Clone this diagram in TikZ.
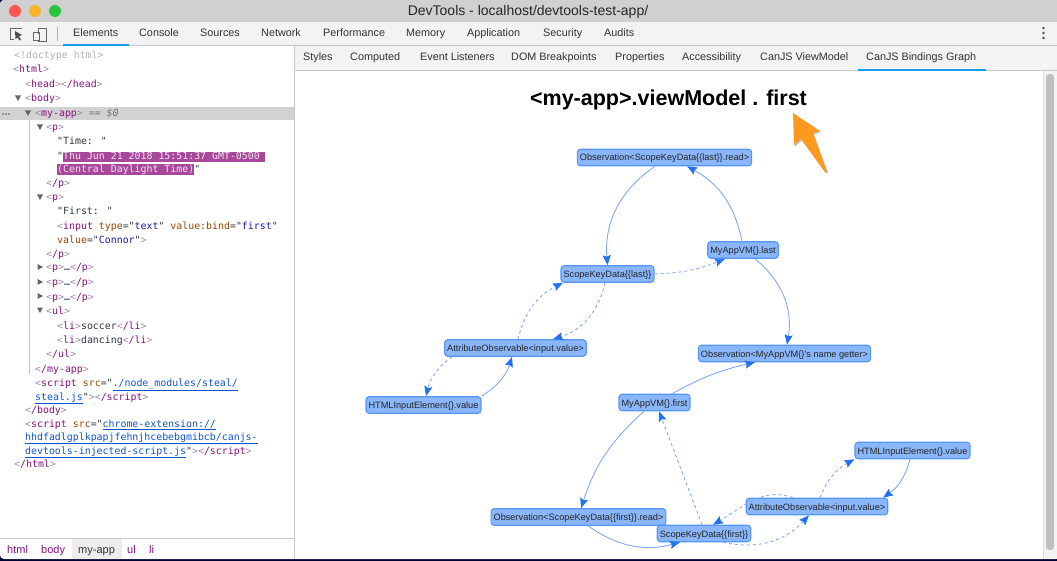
\documentclass[tikz,border=0pt]{standalone}
\usepackage{fontspec}
\setmainfont{Liberation Sans}
\newfontfamily\srcfont{DejaVu Sans Mono}
\usetikzlibrary{arrows.meta}
\definecolor{barbg}{HTML}{D0D0D0}
\definecolor{tabbg}{HTML}{F3F3F3}
\definecolor{linegray}{HTML}{C8C8C8}
\definecolor{tabblue}{HTML}{1A9BE8}
\definecolor{treeline}{HTML}{A8C6EE}
\definecolor{selrow}{HTML}{D2D2D2}
\definecolor{hilite}{HTML}{A8489A}
\definecolor{tagname}{HTML}{881280}
\definecolor{tagmark}{HTML}{A28AA0}
\definecolor{attrname}{HTML}{994500}
\definecolor{attrval}{HTML}{1A1AA6}
\definecolor{linkblue}{HTML}{1155CC}
\definecolor{srctext}{HTML}{303942}
\definecolor{boxfill}{HTML}{8AB6FB}
\definecolor{boxline}{HTML}{5597F3}
\definecolor{edgeblue}{HTML}{7FAAF5}
\definecolor{tipblue}{HTML}{2272F0}
\definecolor{pointer}{HTML}{FF9A1E}
\definecolor{lampred}{HTML}{FC5753}
\definecolor{lampyellow}{HTML}{FDB32C}
\definecolor{lampgreen}{HTML}{2AC33D}
\tikzset{
	src/.style={anchor=base west,inner sep=0pt,text=srctext,font=\srcfont\fontsize{9.9}{12}\selectfont},
	uitab/.style={anchor=base west,inner sep=0pt,text=black!80,font=\fontsize{10.8}{13}\selectfont},
	crumb/.style={anchor=base west,inner sep=0pt,text=tagname,font=\fontsize{11}{13}\selectfont},
	graphbox/.style={draw=boxline,fill=boxfill,rounded corners=3pt,line width=1.1pt,inner xsep=2.5pt,inner ysep=0pt,
		text height=9pt,text depth=2pt,minimum height=16.5pt,text=black!85,font=\fontsize{9.2}{11}\selectfont},
	link/.style={draw=edgeblue,line width=.9pt,-{Stealth[inset=1.5pt,length=10pt,width=8pt,color=tipblue]}},
	dashlink/.style={link,dash pattern=on 3pt off 3pt}
}
\begin{document}
\begin{tikzpicture}[x=1pt,y=-1pt]
\def\tg#1{\textcolor{tagmark}{<}\textcolor{tagname}{#1}\textcolor{tagmark}{>}}
\def\an#1{\textcolor{attrname}{#1}}
\def\av#1{\textcolor{attrval}{#1}}
\def\lk#1{\textcolor{linkblue}{\underline{#1}}}
\useasboundingbox (0,0) rectangle (1057,561);
\fill[black!80!blue] (0,0) rectangle (1057,561);
\fill[white,rounded corners=4pt] (0,0) rectangle (1060,559); %window
\fill[barbg,rounded corners=4pt] (0,0) rectangle (1060,30);
\fill[tabbg] (0,22) rectangle (1057,45);
\fill[tabbg] (295,46) rectangle (1057,70);
\draw[linegray] (0,45.5)--(1057,45.5);
\draw[linegray] (295,70.5)--(1057,70.5);
\draw[linegray] (294.5,46)--(294.5,559);
\draw[linegray] (0,538.5)--(294,538.5);
\fill[tabblue] (63,44)rectangle(129,46);
\fill[tabblue] (858,69)rectangle(986,71);
% title bar
\fill[lampred] (15,11)circle(6);
\fill[lampyellow] (35,11)circle(6);
\fill[lampgreen] (55,11)circle(6);
\node[anchor=base,inner sep=0pt,text=black!85,font=\fontsize{14}{16}\selectfont] (wintitle) at (528,16) {DevTools - localhost/devtools-test-app/};
% toolbar
\draw[black!60,line width=.8pt] (21,29)--(21,28)--(10.5,28)--(10.5,39)--(14,39);
\fill[black!70] (15,31)--(22,35)--(19,36.5)--(21,40)--(19.5,40.5)--(17.5,37.5)--(15.5,39)--cycle;
\draw[black!60,line width=.8pt] (38,34)--(38,28)--(46,28)--(46,41)--(38,41);
\draw[black!60,line width=1pt] (33.5,32.5)rectangle(39,41);
\draw[black!30] (57.5,27)--(57.5,41);
\node[uitab] (tabelements) at (73,37) {Elements};
\node[uitab] (tabconsole) at (139,37) {Console};
\node[uitab] (tabsources) at (200,37) {Sources};
\node[uitab] (tabnetwork) at (261,37) {Network};
\node[uitab] (tabperf) at (323,37) {Performance};
\node[uitab] (tabmemory) at (406,37) {Memory};
\node[uitab] (tabapp) at (467,37) {Application};
\node[uitab] (tabsecurity) at (543,37) {Security};
\node[uitab] (tabaudits) at (604,37) {Audits};
\foreach \y in {28,33,38}
	\fill[black!70] (1043.5,\y)circle(1.3);
\node[uitab] (substyles) at (303,61) {Styles};
\node[uitab] (subcomputed) at (350,61) {Computed};
\node[uitab] (subevents) at (420,61) {Event Listeners};
\node[uitab] (subdom) at (511,61) {DOM Breakpoints};
\node[uitab] (subprops) at (615,61) {Properties};
\node[uitab] (subaccess) at (682,61) {Accessibility};
\node[uitab] (subvm) at (760,61) {CanJS ViewModel};
\node[uitab] (subgraph) at (866,61) {CanJS Bindings Graph};
% scrollbar
\fill[tabbg] (1043,71)rectangle(1057,559);
\draw[linegray!60] (1043.5,71)--(1043.5,559);
\fill[black!25,rounded corners=3.5pt] (1046,74)rectangle(1054,550);
% elements tree
\fill[selrow] (0,107)rectangle(294,120);
\draw[treeline] (29.5,120)--(29.5,374);
\fill[hilite] (63,152)rectangle(265,162.5);
\fill[hilite] (57,164)rectangle(194,175);
\foreach \x/\y in {18/98,28/113,40/127,40/197,40/310}
	\fill[black!60] (\x-3,\y-2.5)--(\x+3,\y-2.5)--(\x,\y+3)--cycle;
\foreach \y in {267,282,296}
	\fill[black!60] (37.5,\y-3)--(43,\y)--(37.5,\y+3)--cycle;
\foreach \x in {3,6,9}
	\fill[black!65] (\x,114)circle(.8);
\node[src,text=black!30] (row01) at (14,59) {<!doctype html>};
\node[src] (row02) at (13,73) {\tg{html}};
\node[src] (row03) at (25,88) {\tg{head}\tg{/head}};
\node[src] (row04) at (25,102) {\tg{body}};
\node[src] (row05) at (35,117) {\tg{my-app} \textcolor{black!55}{== \textit{\$0}}};
\node[src] (row06) at (46,131) {\tg{p}};
\node[src] (row07) at (57,145) {"Time: "};
\node[src] (row08) at (57,160) {"\textcolor{white!85!hilite}{Thu Jun 21 2018 15:51:37 GMT-0500}};
\node[src,text=white!85!hilite] (row09) at (57,173) {(Central Daylight Time)\textcolor{srctext}{"}};
\node[src] (row10) at (46,187) {\tg{/p}};
\node[src] (row11) at (46,201) {\tg{p}};
\node[src] (row12) at (57,215) {"First: "};
\node[src] (row13) at (57,230) {\textcolor{tagmark}{<}\textcolor{tagname}{input} \an{type}="\av{text}" \an{value:bind}="\av{first}"};
\node[src] (row14) at (57,244) {\an{value}="\av{Connor}"\textcolor{tagmark}{>}};
\node[src] (row15) at (46,258) {\tg{/p}};
\node[src] (row16) at (46,271) {\tg{p}…\tg{/p}};
\node[src] (row17) at (46,286) {\tg{p}…\tg{/p}};
\node[src] (row18) at (46,300) {\tg{p}…\tg{/p}};
\node[src] (row19) at (46,314) {\tg{ul}};
\node[src] (row20) at (57,329) {\tg{li}soccer\tg{/li}};
\node[src] (row21) at (57,343) {\tg{li}dancing\tg{/li}};
\node[src] (row22) at (46,357) {\tg{/ul}};
\node[src] (row23) at (35,372) {\tg{/my-app}};
\node[src] (row24) at (35,386) {\textcolor{tagmark}{<}\textcolor{tagname}{script} \an{src}="\lk{./node\_modules/steal/}};
\node[src] (row25) at (35,400) {\lk{steal.js}"\textcolor{tagmark}{>}\tg{/script}};
\node[src] (row26) at (25,413) {\tg{/body}};
\node[src] (row27) at (25,427) {\textcolor{tagmark}{<}\textcolor{tagname}{script} \an{src}="\lk{chrome-extension://}};
\node[src] (row28) at (25,440) {\lk{hhdfadlgplkpapjfehnjhcebebgmibcb/canjs-}};
\node[src] (row29) at (25,454) {\lk{devtools-injected-script.js}"\textcolor{tagmark}{>}\tg{/script}};
\node[src] (row30) at (14,467) {\tg{/html}};
% breadcrumb
\fill[black!7] (72,539)rectangle(122,559);
\node[crumb] (crhtml) at (7,553) {html};
\node[crumb] (crbody) at (41,553) {body};
\node[crumb,text=black!80] (crapp) at (78,553) {my-app};
\node[crumb] (crul) at (127,553) {ul};
\node[crumb] (crli) at (149,553) {li};
% heading and pointer
\node[inner sep=0pt,font=\bfseries\fontsize{21.5}{25}\selectfont] (heading) at (668.5,100) {<my-app>.viewModel . first};
\fill[black!25] (794,114.5)--(821,132)--(814,134.5)--(828,173)--(826,173.5)--(802,140.5)--(795,146.5)--cycle;
\fill[pointer] (793,113)--(820,131)--(813,133)--(827,172)--(825,172)--(801,139)--(794,145)--cycle;
% graph nodes
\node[graphbox] (obslast) at (664.5,157.5) {Observation<ScopeKeyData\{\{last\}\}.read>};
\node[graphbox] (vmlast) at (743,250) {MyAppVM\{\}.last};
\node[graphbox] (sklast) at (607.5,274) {ScopeKeyData\{\{last\}\}};
\node[graphbox] (attrlast) at (515.5,348) {AttributeObservable<input.value>};
\node[graphbox] (htmllast) at (423.5,405) {HTMLInputElement\{\}.value};
\node[graphbox] (obsname) at (784.5,353.5) {Observation<MyAppVM\{\}'s name getter>};
\node[graphbox] (vmfirst) at (654.5,402.5) {MyAppVM\{\}.first};
\node[graphbox] (htmlfirst) at (912.5,450.5) {HTMLInputElement\{\}.value};
\node[graphbox] (attrfirst) at (817,506.5) {AttributeObservable<input.value>};
\node[graphbox] (obsfirst) at (578.5,517) {Observation<ScopeKeyData\{\{first\}\}.read>};
\node[graphbox] (skfirst) at (704,533.5) {ScopeKeyData\{\{first\}\}};
% connectors
\draw[link] ([xshift=-9.5pt]obslast.south) to[bend right=30] (sklast.north); %last
\draw[link] ([xshift=-1pt]vmlast.north) to[bend right=25] ([xshift=22.5pt]obslast.south);
\draw[dashlink] (sklast.east) to[bend right=10] ([xshift=-18pt]vmlast.south);
\draw[link] ([xshift=12pt]vmlast.south) to[bend left=30] ([xshift=2.5pt]obsname.north);
\draw[dashlink] ([xshift=2.5pt]attrlast.north) to[bend left=25] ([xshift=-44.5pt]sklast.south);
\draw[dashlink] ([xshift=-2.5pt]sklast.south) to[bend left=30] ([xshift=37.5pt]attrlast.north);
\draw[dashlink] ([xshift=-63.5pt]attrlast.south) to[bend right=20] ([xshift=2.5pt]htmllast.north);
\draw[link] (htmllast.north east) to[bend right=20] ([xshift=-3.5pt]attrlast.south);
\draw[link] ([xshift=17.5pt]vmfirst.north) to[bend left=8] ([xshift=-29.5pt]obsname.south); %first
\draw[link] ([xshift=-10.5pt]vmfirst.south) to[bend right=15] ([xshift=2.5pt]obsfirst.north);
\draw[dashlink] ([xshift=-2pt]skfirst.north) -- ([xshift=4.5pt]vmfirst.south);
\draw[link] ([xshift=9.5pt]obsfirst.south) to[bend right=25] ([xshift=-24pt]skfirst.south);
\draw[dashlink] ([xshift=19pt]skfirst.south) to[bend right=30] ([xshift=-8pt]attrfirst.south);
\draw[dashlink] ([xshift=-24pt]attrfirst.north) to[out=160,in=30] ([xshift=9pt]skfirst.north);
\draw[dashlink] ([xshift=3pt]attrfirst.north) to[bend left=20] (htmlfirst.south west);
\draw[link] ([xshift=-2.5pt]htmlfirst.south) to[bend left=20] ([xshift=66pt]attrfirst.north);
\end{tikzpicture}
\end{document}
